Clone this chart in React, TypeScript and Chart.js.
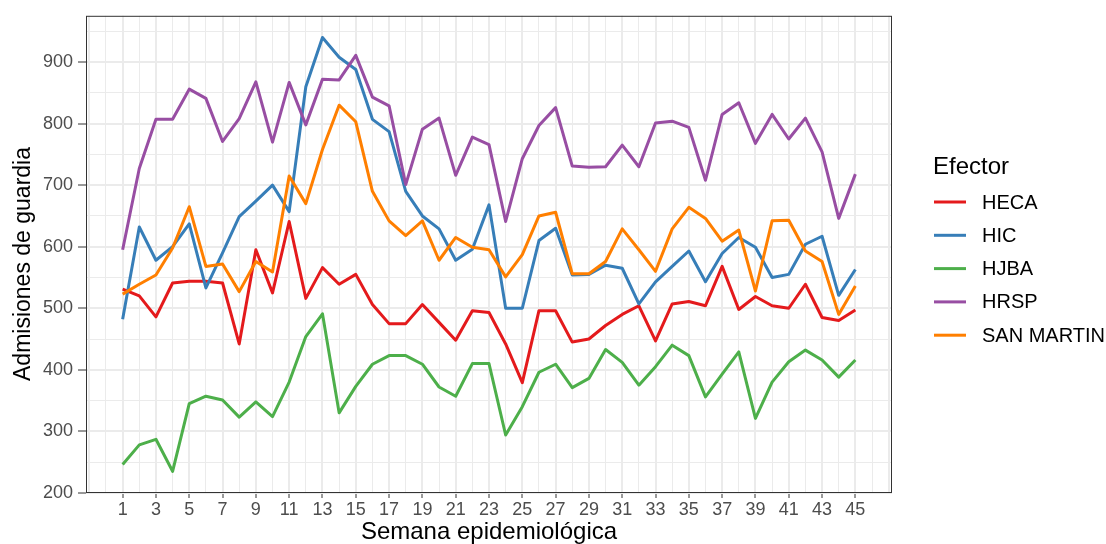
import React, { useEffect, useRef } from "react";
import { Chart, registerables } from "chart.js";

Chart.register(...registerables);

const FONT = '"Liberation Sans", Arial, Helvetica, sans-serif';

const WEEKS = [
  1, 2, 3, 4, 5, 6, 7, 8, 9, 10, 11, 12, 13, 14, 15, 16, 17, 18, 19, 20, 21, 22,
  23, 24, 25, 26, 27, 28, 29, 30, 31, 32, 33, 34, 35, 36, 37, 38, 39, 40, 41, 42,
  43, 44, 45,
];

const X_TICK_LABELS = [1, 3, 5, 7, 9, 11, 13, 15, 17, 19, 21, 23, 25, 27, 29, 31, 33, 35, 37, 39, 41, 43, 45];
const Y_TICK_LABELS = [200, 300, 400, 500, 600, 700, 800, 900];

const SERIES_NAMES = ["HECA", "HIC", "HJBA", "HRSP", "SAN MARTIN"];
const SERIES_COLORS = ["#E41A1C", "#377EB8", "#4DAF4A", "#984EA3", "#FF7F00"];

const HECA = [
  531, 520, 486, 541, 544, 544, 541, 442, 595, 525, 641, 516, 566, 539, 555, 506,
  475, 475, 506, 477, 448, 496, 493, 442, 379, 496, 496, 445, 450, 472, 490, 504,
  447, 507, 511, 504, 568, 498, 519, 504, 500, 539, 485, 480, 497,
];
const HIC = [
  482, 632, 578, 600, 637, 533, 590, 649, 674, 700, 657, 860, 940, 908, 888, 807,
  787, 690, 650, 629, 578, 596, 668, 500, 500, 610, 630, 554, 555, 570, 565, 507,
  543, 568, 593, 543, 589, 615, 599, 550, 555, 604, 617, 521, 563,
];
const HJBA = [
  246, 278, 287, 235, 345, 357, 351, 323, 348, 324, 380, 454, 491, 330, 373, 409,
  423, 423, 409, 372, 357, 410, 410, 294, 340, 396, 409, 371, 386, 433, 412, 375,
  405, 440, 423, 356, 393, 429, 321, 380, 413, 432, 416, 388, 416,
];
const HRSP = [
  595, 727, 807, 807, 856, 841, 771, 808, 868, 770, 867, 798, 872, 871, 911, 843,
  829, 701, 791, 809, 716, 778, 766, 641, 743, 797, 826, 731, 729, 730, 765, 730,
  801, 804, 794, 708, 815, 834, 768, 815, 775, 809, 754, 646, 718,
];
const SAN_MARTIN = [
  523, 539, 554, 598, 665, 568, 572, 527, 576, 559, 715, 670, 758, 830, 803, 690,
  642, 618, 642, 578, 615, 599, 595, 551, 587, 650, 656, 556, 556, 576, 629, 595,
  560, 629, 664, 646, 609, 627, 528, 642, 643, 593, 576, 490, 536,
];

const SERIES_VALUES = [HECA, HIC, HJBA, HRSP, SAN_MARTIN];

const X_TITLE = "Semana epidemiológica";
const Y_TITLE = "Admisiones de guardia";
const LEGEND_TITLE = "Efector";

const panelAndLegend = {
  id: "panelAndLegend",
  afterDraw(chart: any) {
    const { ctx, chartArea: a } = chart;
    ctx.save();
    ctx.strokeStyle = "#333333";
    ctx.lineWidth = 1;
    ctx.strokeRect(a.left + 0.5, a.top + 0.5, a.right - a.left - 1, a.bottom - a.top - 1);

    const lx = a.right + 41;
    ctx.fillStyle = "#000000";
    ctx.textAlign = "left";
    ctx.textBaseline = "middle";
    ctx.font = `24px ${FONT}`;
    ctx.fillText(LEGEND_TITLE, lx, 167);
    chart.data.datasets.forEach((ds: any, i: number) => {
      const y = 202 + i * 33.3;
      ctx.strokeStyle = ds.borderColor;
      ctx.lineWidth = 3;
      ctx.lineCap = "butt";
      ctx.beginPath();
      ctx.moveTo(lx + 1, y);
      ctx.lineTo(lx + 33, y);
      ctx.stroke();
      ctx.fillStyle = "#000000";
      ctx.font = `20px ${FONT}`;
      ctx.fillText(ds.label, lx + 49, y + 1);
    });
    ctx.restore();
  },
};

export default function App() {
  const ref = useRef<HTMLCanvasElement | null>(null);

  useEffect(() => {
    if (!ref.current) return;
    const all = SERIES_VALUES.flat();
    const yMin = Math.min(...all);
    const yMax = Math.max(...all);
    const yPad = (yMax - yMin) * 0.05;
    const xMin = WEEKS[0];
    const xMax = WEEKS[WEEKS.length - 1];
    const xPad = (xMax - xMin) * 0.05;

    const chart = new Chart(ref.current, {
      type: "line",
      data: {
        datasets: SERIES_NAMES.map((name, i) => ({
          label: name,
          data: WEEKS.map((w, j) => ({ x: w, y: SERIES_VALUES[i][j] })),
          borderColor: SERIES_COLORS[i],
          backgroundColor: SERIES_COLORS[i],
          borderWidth: 3,
          pointRadius: 0,
          tension: 0,
          fill: false,
          borderJoinStyle: "round",
          borderCapStyle: "butt",
          order: SERIES_NAMES.length - 1 - i,
        })),
      },
      options: {
        animation: false,
        responsive: false,
        devicePixelRatio: 1,
        layout: { padding: { left: 0, top: 13, right: 214, bottom: 0 } },
        plugins: {
          legend: { display: false },
          tooltip: { enabled: false },
          title: { display: false },
        },
        scales: {
          x: {
            type: "linear",
            min: xMin - xPad,
            max: xMax + xPad,
            afterBuildTicks: (scale: any) => {
              const ticks = [];
              for (let v = Math.ceil(xMin - xPad); v <= Math.floor(xMax + xPad); v++) ticks.push({ value: v });
              scale.ticks = ticks;
            },
            afterFit: (scale: any) => {
              scale.height = 51;
            },
            border: { display: false },
            grid: {
              color: "#ebebeb",
              lineWidth: (c: any) => (c.tick && c.tick.value % 2 !== 0 ? 2 : 1),
              tickColor: (c: any) =>
                c.tick && X_TICK_LABELS.includes(c.tick.value) ? "#333333" : "rgba(0,0,0,0)",
              tickWidth: 1,
              tickLength: 5,
              drawTicks: true,
            },
            ticks: {
              autoSkip: false,
              maxRotation: 0,
              minRotation: 0,
              padding: 1,
              color: "#4d4d4d",
              font: { family: FONT, size: 18 },
              callback: (v: any) => (X_TICK_LABELS.includes(Number(v)) ? String(v) : ""),
            },
            title: {
              display: true,
              text: X_TITLE,
              color: "#000000",
              font: { family: FONT, size: 24, lineHeight: 1 },
              padding: { top: 0, bottom: 0 },
            },
          },
          y: {
            type: "linear",
            min: yMin - yPad,
            max: yMax + yPad,
            afterBuildTicks: (scale: any) => {
              const ticks = [];
              for (let v = Math.ceil((yMin - yPad) / 50) * 50; v <= yMax + yPad; v += 50) ticks.push({ value: v });
              scale.ticks = ticks;
            },
            afterFit: (scale: any) => {
              scale.width = 86;
            },
            border: { display: false },
            grid: {
              color: "#ebebeb",
              lineWidth: (c: any) => (c.tick && c.tick.value % 100 === 0 ? 2 : 1),
              tickColor: (c: any) =>
                c.tick && Y_TICK_LABELS.includes(c.tick.value) ? "#333333" : "rgba(0,0,0,0)",
              tickWidth: 1,
              tickLength: 8,
              drawTicks: true,
            },
            ticks: {
              autoSkip: false,
              padding: 5,
              color: "#4d4d4d",
              font: { family: FONT, size: 18 },
              callback: (v: any) => (Y_TICK_LABELS.includes(Number(v)) ? String(v) : ""),
            },
            title: {
              display: true,
              text: Y_TITLE + "\u00A0\u00A0\u00A0",
              color: "#000000",
              font: { family: FONT, size: 23, lineHeight: 1 },
              padding: { top: 12, bottom: 0 },
            },
          },
        },
      },
      plugins: [panelAndLegend],
    } as any);

    return () => chart.destroy();
  }, []);

  return (
    <div style={{ position: "absolute", left: 0, top: 0, width: 1106, height: 544, background: "#ffffff" }}>
      <canvas ref={ref} width={1106} height={544} style={{ display: "block", width: 1106, height: 544 }} />
    </div>
  );
}
